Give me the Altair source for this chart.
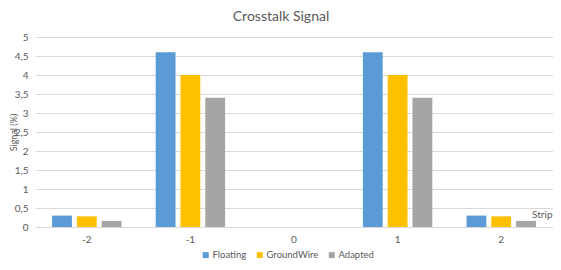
import altair as alt
import pandas as pd

strips = ["-2", "-1", "0", "1", "2"]
series = ["Floating", "GroundWire", "Adapted"]
floating = [0.30, 4.6, 0.0, 4.6, 0.30]
groundwire = [0.28, 4.0, 0.0, 4.0, 0.28]
adapted = [0.16, 3.4, 0.0, 3.4, 0.16]
colors = ["#5B9BD5", "#FFC000", "#A5A5A5"]

rows = []
for name, vals in zip(series, [floating, groundwire, adapted]):
    for s, v in zip(strips, vals):
        rows.append({"Strip": s, "Series": name, "Value": v})
df = pd.DataFrame(rows)

FONT = "Lato"
TXT = "#595959"

chart = alt.Chart(df).mark_bar().encode(
    x=alt.X("Strip:N", sort=strips,
            scale=alt.Scale(paddingInner=0.33, paddingOuter=0.165),
            axis=alt.Axis(title="Strip", labelAngle=0, labelPadding=7, ticks=False,
                          domainColor="#d9d9d9", labelColor=TXT, labelFont=FONT, labelFontSize=10,
                          titleFont=FONT, titleFontSize=10, titleColor=TXT, titleFontWeight="normal",
                          titleX=517, titleY=-13, titleAlign="right", titleBaseline="middle",
                          titleAnchor="end")),
    xOffset=alt.XOffset("Series:N", sort=series, scale=alt.Scale(paddingInner=0.2)),
    y=alt.Y("Value:Q", scale=alt.Scale(domain=[0, 5]),
            axis=alt.Axis(title="Signal (%)", values=[0, 0.5, 1, 1.5, 2, 2.5, 3, 3.5, 4, 4.5, 5],
                          labelExpr="replace(toString(datum.value), '.', ',')",
                          domain=False, ticks=False, gridColor="#d9d9d9", labelPadding=7,
                          labelColor=TXT, labelFont=FONT, labelFontSize=10,
                          titleFont=FONT, titleFontSize=9, titleColor=TXT, titleFontWeight="normal",
                          titleX=-22, titleY=95, titleAngle=270, titleBaseline="middle",
                          titleAlign="center")),
    color=alt.Color("Series:N", sort=series, scale=alt.Scale(domain=series, range=colors),
                    legend=alt.Legend(title=None, orient="none", direction="horizontal",
                                      legendX=166, legendY=213, symbolType="square", symbolSize=36,
                                      symbolStrokeWidth=0, labelFont=FONT, labelFontSize=9.5,
                                      labelColor=TXT, columnPadding=8, labelOffset=2)),
).properties(
    width=518, height=190,
    title=alt.TitleParams("Crosstalk Signal", font=FONT, fontSize=14, color=TXT,
                          fontWeight="normal", anchor="middle", dx=-13, offset=8),
    autosize=alt.AutoSizeParams(type="none"),
    padding={"left": 27, "top": 29, "right": 0, "bottom": 34},
).configure_view(stroke=None)

chart.save("out.html", embed_options={"renderer": "svg", "actions": False})
